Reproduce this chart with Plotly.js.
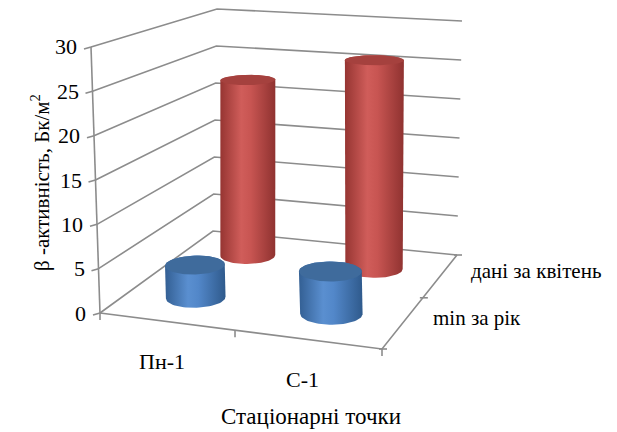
<!DOCTYPE html>
<html>
<head>
<meta charset="utf-8">
<script src="https://cdn.plot.ly/plotly-3.0.1.min.js"></script>
<style>
  html, body { margin: 0; padding: 0; background: #ffffff; }
  #chart { width: 617px; height: 432px; }
</style>
</head>
<body>
<div id="chart"></div>
<script>
// ---- data ----
const stations = ['Пн-1', 'С-1'];
const seriesNames = ['min за рік', 'дані за квітень'];
const minPerYear = [3.8, 4.8];
const aprilData = [22.4, 25.9];
const valueTicks = [0, 5, 10, 15, 20, 25, 30];

const W = 617, H = 432;
const serif = 'Liberation Serif, Times New Roman, DejaVu Serif, serif';

// ---- 3-D box projection ----
// World box: X 0..2 (stations), Y 0..2 (series, front to back), Z 0..30 (value).
// Screen positions of the box corners (0,0), (2,0), (2,2), (0,2) on the floor and on the top plane.
const floorCorners = [[100, 313], [382, 349], [457, 255], [213, 231]];
const topCorners = [[91, 47], [374, 67], [462, 21], [217, 9]];
const worldCorners = [[0, 0], [2, 0], [2, 2], [0, 2]];
const zMax = valueTicks[valueTicks.length - 1];

function solve(A, b) {
  const n = b.length;
  const M = A.map((r, i) => r.concat([b[i]]));
  for (let c = 0; c < n; c++) {
    let p = c;
    for (let r = c + 1; r < n; r++) if (Math.abs(M[r][c]) > Math.abs(M[p][c])) p = r;
    [M[c], M[p]] = [M[p], M[c]];
    for (let r = 0; r < n; r++) {
      if (r === c) continue;
      const f = M[r][c] / M[c][c];
      for (let k = c; k <= n; k++) M[r][k] -= f * M[c][k];
    }
  }
  return M.map((r, i) => r[n] / r[i]);
}

function homography(src, dst) {
  const A = [], b = [];
  src.forEach(([X, Y], i) => {
    const [u, v] = dst[i];
    A.push([X, Y, 1, 0, 0, 0, -u * X, -u * Y]); b.push(u);
    A.push([0, 0, 0, X, Y, 1, -v * X, -v * Y]); b.push(v);
  });
  const h = solve(A, b);
  return (X, Y) => {
    const w = h[6] * X + h[7] * Y + 1;
    return [(h[0] * X + h[1] * Y + h[2]) / w, (h[3] * X + h[4] * Y + h[5]) / w];
  };
}

const floorMap = homography(worldCorners, floorCorners);
const topMap = homography(worldCorners, topCorners);
function project(X, Y, Z) {
  const a = floorMap(X, Y), b = topMap(X, Y), t = Z / zMax;
  return [a[0] + (b[0] - a[0]) * t, a[1] + (b[1] - a[1]) * t];
}

// ---- frame: walls, gridlines, edges and ticks ----
const gx = [], gy = [];
function seg(pts) { pts.forEach(p => { gx.push(p[0]); gy.push(p[1]); }); gx.push(null); gy.push(null); }
valueTicks.forEach(z => seg([project(0, 0, z), project(0, 2, z), project(2, 2, z)]));
seg([project(0, 0, 0), project(0, 0, zMax)]);
seg([project(0, 0, 0), project(2, 0, 0), project(2, 2, 0)]);
// tick marks
valueTicks.forEach(z => { const p = project(0, 0, z); seg([p, [p[0] - 7, p[1] + 2]]); });
[0, 1, 2].forEach(X => { const p = project(X, 0, 0); seg([p, [p[0], p[1] + 7]]); });
[0, 1, 2].forEach(Y => { const p = project(2, Y, 0); seg([[p[0] - 3, p[1]], [p[0] + 5, p[1]]]); });

const traces = [{
  type: 'scatter', mode: 'lines', x: gx, y: gy, hoverinfo: 'skip',
  line: { color: '#8c8c8c', width: 1.6 }
}];

// ---- cylinders ----
const radius = 0.21;
const seriesValues = [minPerYear, aprilData];
const sideScales = [
  [[0, '#335f93'], [0.38, '#5a8fd0'], [0.55, '#5287c9'], [1, '#2f5a8c']],
  [[0, '#963532'], [0.38, '#d05d5a'], [0.55, '#c85552'], [1, '#8f3230']]
];
const capColors = ['#3f6b9c', '#a5413e'];

function hull(pts) {
  const p = pts.slice().sort((a, b) => a[0] - b[0] || a[1] - b[1]);
  const cross = (o, a, b) => (a[0] - o[0]) * (b[1] - o[1]) - (a[1] - o[1]) * (b[0] - o[0]);
  const lower = [], upper = [];
  p.forEach(q => { while (lower.length >= 2 && cross(lower[lower.length - 2], lower[lower.length - 1], q) <= 0) lower.pop(); lower.push(q); });
  p.slice().reverse().forEach(q => { while (upper.length >= 2 && cross(upper[upper.length - 2], upper[upper.length - 1], q) <= 0) upper.pop(); upper.push(q); });
  return lower.slice(0, -1).concat(upper.slice(0, -1));
}

function ring(cx, cy, z, n) {
  const r = [];
  for (let s = 0; s <= n; s++) {
    const a = 2 * Math.PI * s / n;
    r.push(project(cx + radius * Math.cos(a), cy + radius * Math.sin(a), z));
  }
  return r;
}

// back row first so the front row overlaps it
for (let si = seriesValues.length - 1; si >= 0; si--) {
  seriesValues[si].forEach((v, ci) => {
    const cx = ci + 0.5, cy = si + 0.5;
    const bottom = ring(cx, cy, 0, 72), top = ring(cx, cy, v, 72);
    const side = hull(bottom.concat(top));
    side.push(side[0]);
    traces.push({
      type: 'scatter', mode: 'lines', hoverinfo: 'skip',
      x: side.map(p => p[0]), y: side.map(p => p[1]),
      fill: 'toself', line: { width: 0, color: 'rgba(0,0,0,0)' },
      fillgradient: { type: 'horizontal', colorscale: sideScales[si] }
    });
    traces.push({
      type: 'scatter', mode: 'lines', hoverinfo: 'skip',
      x: top.map(p => p[0]), y: top.map(p => p[1]),
      fill: 'toself', fillcolor: capColors[si], line: { width: 0, color: 'rgba(0,0,0,0)' }
    });
  });
}

// ---- text (placed in paper coordinates) ----
const annotations = [];
function label(px, py, text, opts) {
  annotations.push(Object.assign({
    xref: 'paper', yref: 'paper', x: px / W, y: 1 - py / H, text: text, showarrow: false
  }, opts));
}
valueTicks.forEach(z => {
  const p = project(0, 0, z);
  label(p[0] - 12, p[1], String(z), { xanchor: 'right', yanchor: 'middle',
    font: { family: serif, size: 22, color: '#000000' } });
});
stations.forEach((s, i) => {
  const p = project(i + 0.5, 0, 0);
  label(p[0] - 4, p[1] + 40, s, { xanchor: 'center', yanchor: 'middle',
    font: { family: serif, size: 22, color: '#000000' } });
});
seriesNames.forEach((s, i) => {
  const p = project(2, i + 0.5, 0);
  label(p[0] + 28, p[1] - 4, s, { xanchor: 'left', yanchor: 'middle',
    font: { family: serif, size: 21, color: '#000000' } });
});
label(40, 183, 'β -активність, Бк/м<sup>2</sup>', { textangle: -90, xanchor: 'center', yanchor: 'middle',
  font: { family: serif, size: 21, color: '#000000' } });
label(311, 416, 'Стаціонарні точки', { xanchor: 'center', yanchor: 'middle',
  font: { family: serif, size: 23, color: '#000000' } });

const layout = {
  width: W, height: H,
  margin: { l: 0, r: 0, t: 0, b: 0 },
  paper_bgcolor: '#ffffff', plot_bgcolor: '#ffffff',
  showlegend: false,
  font: { family: serif, color: '#000000' },
  xaxis: { range: [0, W], visible: false, fixedrange: true },
  yaxis: { range: [H, 0], visible: false, fixedrange: true },
  annotations: annotations
};

Plotly.newPlot('chart', traces, layout, { displayModeBar: false, staticPlot: true });
</script>
</body>
</html>
